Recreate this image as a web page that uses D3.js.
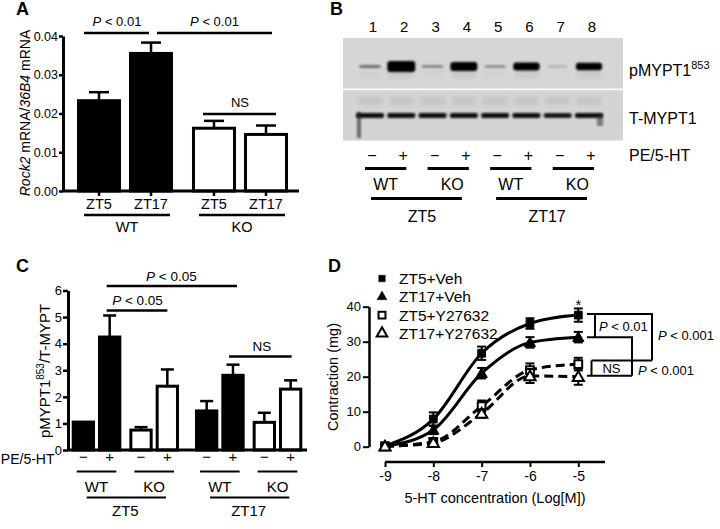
<!DOCTYPE html>
<html><head><meta charset="utf-8">
<script src="https://cdn.jsdelivr.net/npm/d3@7"></script>
<style>
body{margin:0;background:#fff}
svg{font-family:"Liberation Sans",Arial,Helvetica,sans-serif}
</style></head><body>
<svg id="c" width="720" height="529"></svg>
<script>
// ---------------- DATA ----------------
// Panel A
const aGroups = ["WT", "KO"];
const aTimes = ["ZT5", "ZT17"];
const aMean = [0.0233, 0.0355, 0.0162, 0.0146];
const aErr = [0.0022, 0.0028, 0.0019, 0.0023];
const aTicks = [0, 0.01, 0.02, 0.03, 0.04];

// Panel B (western blot)
const bLanes = ["1", "2", "3", "4", "5", "6", "7", "8"];
const bTreat = ["−", "+", "−", "+", "−", "+", "−", "+"];
const bGeno = ["WT", "KO", "WT", "KO"];
const bTime = ["ZT5", "ZT17"];
const bPhospho = [0.3, 1.0, 0.25, 0.88, 0.2, 0.8, 0.05, 0.78];
const bTotal = [1.0, 0.92, 0.92, 0.92, 0.92, 0.92, 0.88, 1.0];

// Panel C
const cTime = ["ZT5", "ZT17"];
const cGeno = ["WT", "KO"];
const cTreat = ["−", "+"];
const cMean = [1.05, 4.25, 0.75, 2.4, 1.47, 2.81, 1.04, 2.29];
const cErr = [0, 0.81, 0.11, 0.63, 0.37, 0.40, 0.36, 0.33];
const cTicks = [0, 1, 2, 3, 4, 5, 6];

// Panel D
const dConc = [-9, -8, -7, -6, -5];
const dSeries = ["ZT5+Veh", "ZT17+Veh", "ZT5+Y27632", "ZT17+Y27632"];
const dZT5Veh = [0.2, 7.9, 26.7, 35.2, 37.6];
const dZT17Veh = [0.1, 4.8, 21.0, 29.8, 31.3];
const dZT5Y = [0.1, 1.4, 11.6, 21.9, 23.6];
const dZT17Y = [0.1, 1.1, 9.5, 20.2, 20.0];
const dErrZT5Veh = [0.6, 1.9, 1.9, 1.5, 1.9];
const dErrZT17Veh = [0.5, 1.2, 1.5, 1.5, 1.5];
const dErrZT5Y = [0.5, 1.0, 1.6, 1.9, 1.8];
const dErrZT17Y = [0.5, 0.9, 1.2, 2.0, 2.3];
const dTicksY = [0, 10, 20, 30, 40];

// ---------------- DRAW ----------------
const FONT = '"Liberation Sans", Arial, Helvetica, sans-serif';
const svg = d3.select("#c");
svg.append("rect").attr("width", 720).attr("height", 529).attr("fill", "#fff");

// panel letters
[["A", 16, 15], ["B", 330, 15], ["C", 16, 272], ["D", 328, 272]].forEach(([t, x, y]) =>
  svg.append("text").attr("x", x).attr("y", y).attr("font-size", 18).attr("font-weight", "bold").text(t));

function line(g, x1, y1, x2, y2, w) {
  return g.append("line").attr("x1", x1).attr("y1", y1).attr("x2", x2).attr("y2", y2)
    .attr("stroke", "#000").attr("stroke-width", w || 2.5);
}
function txt(g, x, y, s, size, anchor) {
  return g.append("text").attr("x", x).attr("y", y).attr("font-size", size || 14)
    .attr("text-anchor", anchor || "middle").text(s);
}
function pText(g, x, y, rest, size, anchor) {
  const t = g.append("text").attr("x", x).attr("y", y).attr("font-size", size || 13).attr("text-anchor", anchor || "middle");
  t.append("tspan").attr("font-style", "italic").text("P");
  t.append("tspan").text(rest);
  return t;
}
function styleAxis(a, w, fs) {
  a.attr("font-family", FONT).attr("font-size", fs);
  a.select(".domain").attr("stroke-width", w);
  a.selectAll(".tick line").attr("stroke-width", w - 0.5);
  a.selectAll(".tick text").attr("fill", "#000").attr("font-size", fs);
}

// ===== Panel A =====
const gA = svg.append("g");
const yA = d3.scaleLinear().domain([0, 0.04]).range([191, 36]);
const xA0 = d3.scaleBand().domain(aGroups).range([77, 288]).paddingInner(0.165);
const xA1 = d3.scaleBand().domain(aTimes).range([0, xA0.bandwidth()]).paddingInner(0.154);
const aRows = aGroups.flatMap((g, i) => aTimes.map((t, j) => ({ g, t, m: aMean[i * 2 + j], e: aErr[i * 2 + j] })));
const aCx = d => xA0(d.g) + xA1(d.t) + xA1.bandwidth() / 2;

gA.selectAll("rect.bar").data(aRows).join("rect")
  .attr("x", d => xA0(d.g) + xA1(d.t) + 1.5).attr("width", xA1.bandwidth() - 3)
  .attr("y", d => yA(d.m)).attr("height", d => yA(0) - yA(d.m))
  .attr("fill", d => d.g === "WT" ? "#000" : "#fff").attr("stroke", "#000").attr("stroke-width", 3);
aRows.forEach(d => {
  const cx = aCx(d);
  line(gA, cx, yA(d.m), cx, yA(d.m + d.e), 2.5);
  line(gA, cx - 10, yA(d.m + d.e), cx + 10, yA(d.m + d.e), 2.5);
  line(gA, cx, 191, cx, 196, 2.5);
});
const axA = gA.append("g").attr("transform", "translate(63,0)")
  .call(d3.axisLeft(yA).tickValues(aTicks).tickFormat(d3.format(".2f")).tickSize(4).tickSizeOuter(0).tickPadding(1));
styleAxis(axA, 3, 12.5);
line(gA, 62, 191, 299, 191, 3);
aRows.forEach(d => txt(gA, aCx(d), 208.5, d.t, 14.5));
aGroups.forEach(g => {
  const c0 = xA0(g), c1 = xA0(g) + xA0.bandwidth();
  line(gA, c0 + 7, 215, c1 - 3, 215, 2.5);
  txt(gA, (c0 + c1) / 2 + 2, 231.5, g, 14.5);
});
line(gA, aCx(aRows[0]) - 15, 33, aCx(aRows[1]) - 2, 33, 2.5);
line(gA, aCx(aRows[1]) + 6, 33, aCx(aRows[3]) + 6, 33, 2.5);
pText(gA, (aCx(aRows[0]) + aCx(aRows[1])) / 2 - 8, 25.5, " < 0.01", 13);
pText(gA, (aCx(aRows[1]) + aCx(aRows[3])) / 2 + 6, 25.5, " < 0.01", 13);
line(gA, aCx(aRows[2]) - 11, 114, aCx(aRows[3]) + 10, 114, 2.5);
txt(gA, (aCx(aRows[2]) + aCx(aRows[3])) / 2, 107, "NS", 13);
// y label
const yl = gA.append("text").attr("transform", "translate(30,113) rotate(-90)").attr("font-size", 14).attr("text-anchor", "middle");
yl.append("tspan").attr("font-style", "italic").text("Rock2");
yl.append("tspan").text(" mRNA/");
yl.append("tspan").attr("font-style", "italic").text("36B4");
yl.append("tspan").text(" mRNA");

// ===== Panel B =====
const gB = svg.append("g");
const defs = svg.append("defs");
const f = defs.append("filter").attr("id", "blur").attr("x", "-30%").attr("y", "-80%").attr("width", "160%").attr("height", "260%");
f.append("feGaussianBlur").attr("stdDeviation", 1.0);
const f2 = defs.append("filter").attr("id", "blur2").attr("x", "-30%").attr("y", "-60%").attr("width", "160%").attr("height", "220%");
f2.append("feGaussianBlur").attr("stdDeviation", 2.5);
const xB = d3.scalePoint().domain(bLanes).range([370, 589]);
const blotL = 343, blotR = 623;
gB.append("rect").attr("x", blotL).attr("y", 38).attr("width", blotR - blotL).attr("height", 51).attr("fill", "#d6d6d6");
gB.append("rect").attr("x", blotL).attr("y", 90).attr("width", blotR - blotL).attr("height", 50.5).attr("fill", "#d4d4d4");
// faint upper bands in total blot and ghost under strong phospho bands
gB.selectAll("rect.faint").data(bLanes).join("rect")
  .attr("x", d => xB(d) - 12).attr("y", 97).attr("width", 24).attr("height", 8)
  .attr("fill", "#000").attr("opacity", 0.07).attr("filter", "url(#blur2)");
gB.selectAll("rect.ghost").data(bLanes).join("rect")
  .attr("x", d => xB(d) - 12).attr("y", 70).attr("width", 24).attr("height", 8)
  .attr("fill", "#000").attr("opacity", (d, i) => 0.07 * bPhospho[i]).attr("filter", "url(#blur2)");
// phospho bands
gB.selectAll("rect.p").data(bLanes).join("rect")
  .attr("x", (d, i) => xB(d) - (10 + 4 * bPhospho[i]))
  .attr("width", (d, i) => 2 * (10 + 4 * bPhospho[i]))
  .attr("y", (d, i) => 66.5 - (1 + 4.5 * bPhospho[i] * bPhospho[i]))
  .attr("height", (d, i) => 2 + 9 * bPhospho[i] * bPhospho[i])
  .attr("rx", 3)
  .attr("fill", "#050505")
  .attr("opacity", (d, i) => bPhospho[i] > 0.5 ? 1 : 0.15 + 1.1 * bPhospho[i])
  .attr("filter", "url(#blur)");
// total bands
gB.selectAll("rect.t").data(bLanes).join("rect")
  .attr("x", d => xB(d) - 14).attr("width", 28)
  .attr("y", (d, i) => 115.5 - 2.6 * bTotal[i]).attr("height", (d, i) => 5.2 * bTotal[i])
  .attr("rx", 2).attr("fill", "#080808").attr("filter", "url(#blur)");
// smear at lane edges
gB.append("rect").attr("x", xB("1") - 13).attr("y", 112).attr("width", 4).attr("height", 26)
  .attr("fill", "#222").attr("opacity", 0.6).attr("filter", "url(#blur)");
gB.append("rect").attr("x", xB("8") + 8).attr("y", 114).attr("width", 6).attr("height", 12)
  .attr("fill", "#222").attr("opacity", 0.5).attr("filter", "url(#blur)");
gB.append("rect").attr("x", blotL).attr("y", 88.6).attr("width", blotR - blotL).attr("height", 1.6).attr("fill", "#fff");
// lane numbers
bLanes.forEach(l => txt(gB, xB(l) + 3, 32, l, 15));
// right labels
const pl = gB.append("text").attr("x", 629).attr("y", 76).attr("font-size", 16);
pl.append("tspan").text("pMYPT1");
pl.append("tspan").attr("font-size", 11).attr("dy", -7).text("853");
txt(gB, 629, 124, "T-MYPT1", 16, "start");
txt(gB, 629, 161, "PE/5-HT", 16, "start");
bLanes.forEach((l, i) => txt(gB, xB(l) + 2, 161, bTreat[i], 16));
bGeno.forEach((g, k) => {
  const a = xB(bLanes[2 * k]), b = xB(bLanes[2 * k + 1]);
  line(gB, a - 5, 168.5, b + 5, 168.5, 3);
  txt(gB, (a + b) / 2 + 2 + (g === "WT" ? -2 : 2), 190, g, 16);
});
bTime.forEach((t, k) => {
  const a = xB(bLanes[4 * k]), b = xB(bLanes[4 * k + 3]);
  line(gB, a + 1, 198.5, b - 2, 198.5, 3);
  txt(gB, (a + b) / 2 + 5, 222, t, 16);
});

// ===== Panel C =====
const gC = svg.append("g");
const yC = d3.scaleLinear().domain([0, 6]).range([450, 290.5]);
const xC0 = d3.scaleBand().domain(cTime).range([71.7, 302.3]).paddingInner(0.13);
const xC1 = d3.scaleBand().domain(cGeno).range([0, xC0.bandwidth()]).paddingInner(0.139);
const xC2 = d3.scaleBand().domain(cTreat).range([0, xC1.bandwidth()]).paddingInner(0.114);
const cRows = [];
cTime.forEach((t, i) => cGeno.forEach((g, j) => cTreat.forEach((s, k) => {
  const idx = i * 4 + j * 2 + k;
  cRows.push({ t, g, s, m: cMean[idx], e: cErr[idx], x: xC0(t) + xC1(g) + xC2(s) });
})));
const cw = xC2.bandwidth();
gC.selectAll("rect").data(cRows).join("rect")
  .attr("x", d => d.x + 1.5).attr("width", cw - 3)
  .attr("y", d => yC(d.m)).attr("height", d => yC(0) - yC(d.m))
  .attr("fill", d => d.g === "WT" ? "#000" : "#fff").attr("stroke", "#000").attr("stroke-width", 3);
cRows.forEach(d => {
  const cx = d.x + cw / 2;
  if (d.e > 0) {
    line(gC, cx, yC(d.m), cx, yC(d.m + d.e), 2.5);
    line(gC, cx - 6.5, yC(d.m + d.e), cx + 6.5, yC(d.m + d.e), 2.5);
  }
  txt(gC, cx, 462, d.s, 15);
});
const axC = gC.append("g").attr("transform", "translate(68,0)")
  .call(d3.axisLeft(yC).tickValues(cTicks).tickFormat(d3.format("d")).tickSize(5).tickSizeOuter(0).tickPadding(1));
styleAxis(axC, 3, 13);
line(gC, 67, 450, 307, 450, 3);
txt(gC, 54.5, 463.5, "PE/5-HT", 14, "end");
cTime.forEach(t => cGeno.forEach(g => {
  const a = xC0(t) + xC1(g), b = a + xC1.bandwidth();
  line(gC, a + 5, 471.5, b - 5, 471.5, 2);
  txt(gC, (a + b) / 2, 492, g, 15);
}));
cTime.forEach(t => {
  const a = xC0(t), b = a + xC0.bandwidth();
  line(gC, a + 15, 497.5, b - 13, 497.5, 2);
  txt(gC, (a + b) / 2, 516, t, 15);
});
const cc = i => cRows[i].x + cw / 2;
line(gC, cc(1) - 3, 286, cc(5) + 4, 286, 2.5);
pText(gC, (cc(1) + cc(5)) / 2, 281, " < 0.05", 13.5);
line(gC, cc(1) - 3, 310.5, cc(3), 310.5, 2.5);
pText(gC, (cc(1) + cc(3)) / 2 - 1, 305, " < 0.05", 13.5);
line(gC, cc(5) - 4, 356.5, cc(7) + 1, 356.5, 2.5);
txt(gC, (cc(5) + cc(7)) / 2, 351, "NS", 13.5);
const cyl = gC.append("text").attr("transform", "translate(50,371) rotate(-90)").attr("font-size", 15).attr("text-anchor", "middle");
cyl.append("tspan").text("pMYPT1");
cyl.append("tspan").attr("font-size", 10).attr("dy", -6).text("853");
cyl.append("tspan").attr("dy", 6).text("/T-MYPT");

// ===== Panel D =====
const gD = svg.append("g");
const yD = d3.scaleLinear().domain([0, 40]).range([446.7, 306.7]);
const xD = d3.scaleLinear().domain([-9, -5]).range([385, 578.3]);
const axDy = gD.append("g").attr("transform", "translate(369,0)")
  .call(d3.axisLeft(yD).tickValues(dTicksY).tickFormat(d3.format("d")).tickSize(6).tickSizeOuter(0).tickPadding(2));
styleAxis(axDy, 2.5, 13);
const axDx = gD.append("g").attr("transform", "translate(0,462)")
  .call(d3.axisBottom(xD).tickValues(dConc).tickFormat(d => d3.format("d")(d).replace("−", "-")).tickSize(5).tickSizeOuter(0).tickPadding(4));
styleAxis(axDx, 2.5, 14);
axDx.select(".domain").attr("d", `M${xD(-9)},0H605`);
txt(gD, 495, 503, "5-HT concentration (Log[M])", 14.5);
gD.append("text").attr("transform", "translate(338,377) rotate(-90)").attr("font-size", 14.5).attr("text-anchor", "middle").text("Contraction (mg)");

const dData = [
  { name: dSeries[0], v: dZT5Veh, e: dErrZT5Veh, sym: d3.symbolSquare, fill: true, dash: null },
  { name: dSeries[1], v: dZT17Veh, e: dErrZT17Veh, sym: d3.symbolTriangle, fill: true, dash: null },
  { name: dSeries[2], v: dZT5Y, e: dErrZT5Y, sym: d3.symbolSquare, fill: false, dash: "9,5" },
  { name: dSeries[3], v: dZT17Y, e: dErrZT17Y, sym: d3.symbolTriangle, fill: false, dash: "9,5" }
];
const lineGen = d3.line().x((d, i) => xD(dConc[i])).y(d => yD(d)).curve(d3.curveMonotoneX);
dData.slice().reverse().forEach(s => {
  gD.append("path").attr("d", lineGen(s.v)).attr("fill", "none").attr("stroke", "#000")
    .attr("stroke-width", 3).attr("stroke-dasharray", s.dash);
});
dData.forEach(s => {
  s.v.forEach((v, i) => {
    const cx = xD(dConc[i]);
    if (i > 0) {
      line(gD, cx, yD(v - s.e[i]), cx, yD(v + s.e[i]), 2);
      line(gD, cx - 4.5, yD(v + s.e[i]), cx + 4.5, yD(v + s.e[i]), 2);
      line(gD, cx - 4.5, yD(v - s.e[i]), cx + 4.5, yD(v - s.e[i]), 2);
    }
    gD.append("path").attr("d", d3.symbol(s.sym, s.sym === d3.symbolSquare ? 60 : 55)())
      .attr("transform", `translate(${cx},${yD(v) + (s.sym === d3.symbolTriangle ? 1 : 0)})`)
      .attr("fill", s.fill ? "#000" : "#fff").attr("stroke", "#000").attr("stroke-width", s.fill ? 1 : 2);
  });
});
// legend
dData.forEach((s, i) => {
  const y = 278.5 + i * 18.3;
  gD.append("path").attr("d", d3.symbol(s.sym, s.fill ? 42 : 48)())
    .attr("transform", `translate(382,${y})`)
    .attr("fill", s.fill ? "#000" : "#fff").attr("stroke", "#000").attr("stroke-width", s.fill ? 0.5 : 2);
  txt(gD, 399, y + 5.5, s.name, 15.5, "start");
});
// star
txt(gD, xD(-5), yD(dZT5Veh[4] + dErrZT5Veh[4]) + 2, "*", 15);
// brackets
const yb = [yD(dZT5Veh[4]) - 1, yD(dZT17Veh[4]), yD(dZT5Y[4] + 1), yD(dZT17Y[4]) - 1];
const bx0 = 587;
const path = (d) => gD.append("path").attr("d", d).attr("fill", "none").attr("stroke", "#000").attr("stroke-width", 2);
path(`M${bx0},${yb[0]}H652V${yb[2]}`);
path(`M595,${yb[0]}V${yb[1]}`);
path(`M${bx0},${yb[1]}H632V${yb[3]}`);
path(`M591.5,${yb[2]}H652`);
path(`M591.5,${yb[2]}V${yb[3]}`);
path(`M${bx0},${yb[3]}H632`);
pText(gD, 599, 331, " < 0.01", 13, "start");
pText(gD, 658, 340, " < 0.001", 13, "start");
pText(gD, 638, 375, " < 0.001", 13, "start");
txt(gD, 611.5, 372.5, "NS", 13);
</script>
</body></html>
